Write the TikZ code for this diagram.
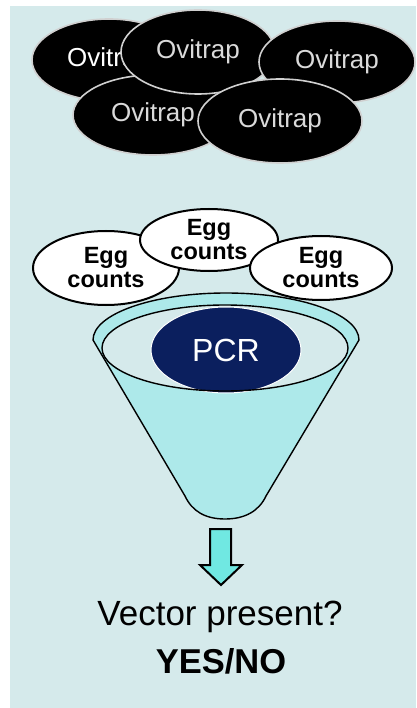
\documentclass[tikz,border=0pt]{standalone}
\usepackage{fontspec}
\setmainfont{Liberation Sans}
\usetikzlibrary{shapes.geometric}
\definecolor{bgc}{HTML}{D5EAEB}
\definecolor{funnelc}{HTML}{ADE9EA}
\definecolor{arrowc}{HTML}{70E8E2}
\definecolor{navyc}{HTML}{0B1F5E}
\definecolor{trapline}{HTML}{D0D0D0}
\definecolor{traptext}{HTML}{DADADA}
\tikzset{
  trap/.style={ellipse, fill=black, draw=trapline, line width=1.6pt, inner sep=0pt,
    text=traptext, font=\fontsize{26}{26}\selectfont},
  egg/.style={ellipse, fill=white, draw=black, line width=2pt, inner sep=0pt,
    align=center, font=\fontsize{23.5}{24}\selectfont\bfseries},
  label/.style={anchor=base, inner sep=0pt, font=\fontsize{35}{35}\selectfont}
}
\begin{document}
\begin{tikzpicture}[x=1pt,y=-1pt]
\useasboundingbox (0,0) rectangle (416,708);
\fill[white] (0,0) rectangle (416,708);
\fill[bgc] (10,6) rectangle (416,708);
% Ovitraps
\node[trap, text=white, minimum width=154pt, minimum height=82pt] (t1) at (109,60) {Ovitrap};
\node[trap, minimum width=160pt, minimum height=80pt] (t4) at (153,115) {Ovitrap};
\node[trap, minimum width=154pt, minimum height=84pt] (t2) at (198,52) {Ovitrap};
\node[trap, minimum width=156pt, minimum height=82pt] (t3) at (337,62) {Ovitrap};
\node[trap, minimum width=164pt, minimum height=84pt] (t5) at (280,121) {Ovitrap};
% Egg counts
\node[egg, minimum width=146pt, minimum height=74pt] (e1) at (106,268) {Egg\\counts};
\node[egg, minimum width=138pt, minimum height=62pt] (e2) at (209,240) {Egg\\counts};
\node[egg, minimum width=142pt, minimum height=64pt] (e3) at (321,268) {Egg\\counts};
% Funnel
\draw[fill=funnelc, line width=1.4pt, line join=round] (93,340)
  arc[start angle=180, end angle=360, x radius=133, y radius=47]
  -- (266,496) .. controls (259,511) and (245,519) .. (225,519)
  .. controls (205,519) and (192,511) .. (185,496) -- cycle;
\coordinate (fbottom) at (225,519);
\node[ellipse, fill=bgc, minimum width=246pt, minimum height=86pt, inner sep=0pt] (inner) at (225,348) {};
\node[ellipse, fill=navyc, draw=white, line width=1pt, minimum width=150pt, minimum height=86pt,
  inner sep=0pt, text=white, font=\fontsize{32}{32}\selectfont] (pcr) at (226,350) {PCR};
\draw[line width=1.4pt] (225,348) ellipse[x radius=123, y radius=43];
% Arrow
\draw[fill=arrowc, line width=2pt, line join=miter]
  (210,529) -- (231,529) -- (231,565) -- (242,565) -- (221,585) -- (200,565) -- (210,565) -- cycle;
% Texts
\node[label] (q) at (220,625) {Vector present?};
\node[label, font=\fontsize{34.5}{35}\selectfont\bfseries] (a) at (221,673) {YES/NO};
\end{tikzpicture}
\end{document}
